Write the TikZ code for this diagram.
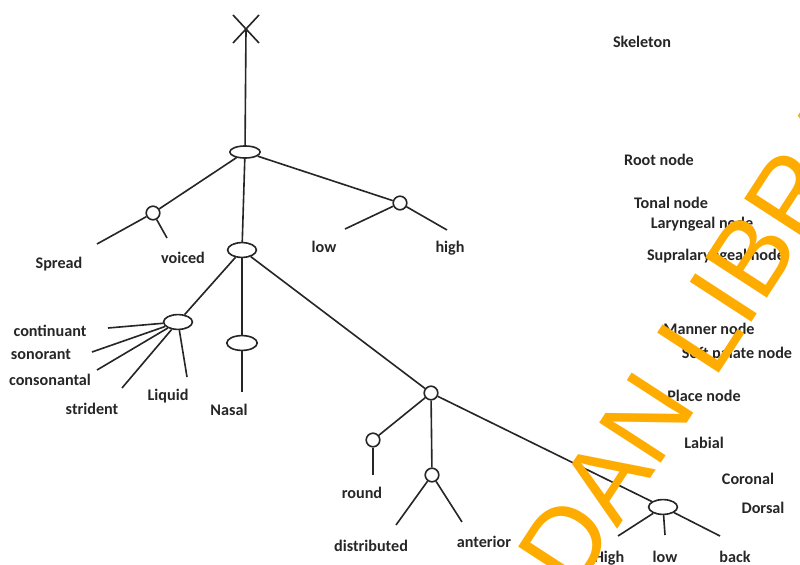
\documentclass[tikz,border=0pt]{standalone}
\usepackage{fontspec}
\setmainfont{Carlito}
\newfontfamily\stampfont{Liberation Sans}
\usetikzlibrary{shapes.geometric}
\definecolor{stamp}{RGB}{255,172,0}

\begin{document}
\begin{tikzpicture}[x=0.025cm, y=-0.025cm, line width=1.15pt, draw=black!85,
    knot/.style={draw, circle, inner sep=0pt, minimum size=0.34cm},
    oval/.style={draw, ellipse, inner sep=0pt, minimum width=0.72cm, minimum height=0.37cm},
    lbl/.style={anchor=base, inner sep=0pt, font=\fontsize{11.5}{13}\selectfont\bfseries, text=black!85}]
    \useasboundingbox (0,0) rectangle (800,564);

    % tree nodes
    \coordinate (skel) at (246,29);
    \node (root) at (245,152) [oval, minimum width=0.76cm, minimum height=0.3cm] {};
    \node (lar) at (153,213) [knot] {};
    \node (tonal) at (400,203) [knot] {};
    \node (supra) at (242,250) [oval] {};
    \node (manner) at (178,322) [oval] {};
    \node (soft) at (242,343) [oval, minimum width=0.76cm] {};
    \node (place) at (431,393) [knot] {};
    \node (labial) at (373,440) [knot] {};
    \node (coronal) at (432,475) [knot] {};
    \node (dorsal) at (663,507) [oval] {};

    % skeleton slot
    \draw (skel) ++(-13,-14) -- ++(26,28);
    \draw (skel) ++(13,-14) -- ++(-26,28);
    \draw (skel) -- (root);

    \draw (root) -- (lar);
    \draw (root) -- (tonal);
    \draw (root) -- (supra);
    \draw (supra) -- (manner);
    \draw (supra) -- (soft);
    \draw (supra) -- (place);
    \draw (place) -- (labial);
    \draw (place) -- (coronal);
    \draw (place) -- (dorsal);

    % free ends of the feature lines
    \foreach \n/\x/\y in {spr/97/244, voi/167/238} { \coordinate (\n) at (\x,\y); \draw (lar) -- (\n); }
    \foreach \n/\x/\y in {lo/345/229, hi/447/230} { \coordinate (\n) at (\x,\y); \draw (tonal) -- (\n); }
    \foreach \n/\x/\y in {cont/108/328, son/92/352, cons/97/370, stri/122/388, liq/187/377} { \coordinate (\n) at (\x,\y); \draw (manner) -- (\n); }
    \coordinate (nas) at (242,392); \draw (soft) -- (nas);
    \coordinate (rnd) at (373,475); \draw (labial) -- (rnd);
    \foreach \n/\x/\y in {dist/396/525, ant/462/522} { \coordinate (\n) at (\x,\y); \draw (coronal) -- (\n); }
    \foreach \n/\x/\y in {hgh/618/536, lw/665/535, bck/720/536} { \coordinate (\n) at (\x,\y); \draw (dorsal) -- (\n); }

    % feature labels
    \node (t-spr) at (59,268) [lbl] {Spread};
    \node (t-voi) at (183,263) [lbl] {voiced};
    \node (t-lo) at (324,252) [lbl] {low};
    \node (t-hi) at (450,252) [lbl] {high};
    \node (t-cont) at (50,336) [lbl] {continuant};
    \node (t-son) at (41,359) [lbl] {sonorant};
    \node (t-cons) at (50,385) [lbl] {consonantal};
    \node (t-stri) at (92,414) [lbl] {strident};
    \node (t-liq) at (168,400) [lbl] {Liquid};
    \node (t-nas) at (229,415) [lbl] {Nasal};
    \node (t-rnd) at (362,498) [lbl] {round};
    \node (t-dist) at (371,551) [lbl] {distributed};
    \node (t-ant) at (484,547) [lbl] {anterior};
    \node (t-hgh) at (609,562) [lbl] {High};
    \node (t-lw) at (665,562) [lbl] {low};
    \node (t-bck) at (735,562) [lbl] {back};

    % node names on the right
    \node (n-skel) at (642,48) [lbl] {Skeleton};
    \node (n-root) at (659,165) [lbl] {Root node};
    \node (n-tonal) at (671,208) [lbl] {Tonal node};
    \node (n-lar) at (702,228) [lbl] {Laryngeal node};
    \node (n-supra) at (716,260) [lbl] {Supralaryngeal node};
    \node (n-manner) at (709,334) [lbl] {Manner node};
    \node (n-soft) at (737,358) [lbl] {Soft palate node};
    \node (n-place) at (704,401) [lbl] {Place node};
    \node (n-labial) at (704,448) [lbl] {Labial};
    \node (n-coronal) at (748,484) [lbl] {Coronal};
    \node (n-dorsal) at (763,513) [lbl] {Dorsal};

    % library stamp
    \begin{scope}
        \clip (0,0) rectangle (800,564);
        \node (stamp) at (698,338) [rotate=57, inner sep=0pt, text=stamp, font=\stampfont\fontsize{76}{78}\selectfont] {DAN LIBRA};
    \end{scope}
\end{tikzpicture}
\end{document}
